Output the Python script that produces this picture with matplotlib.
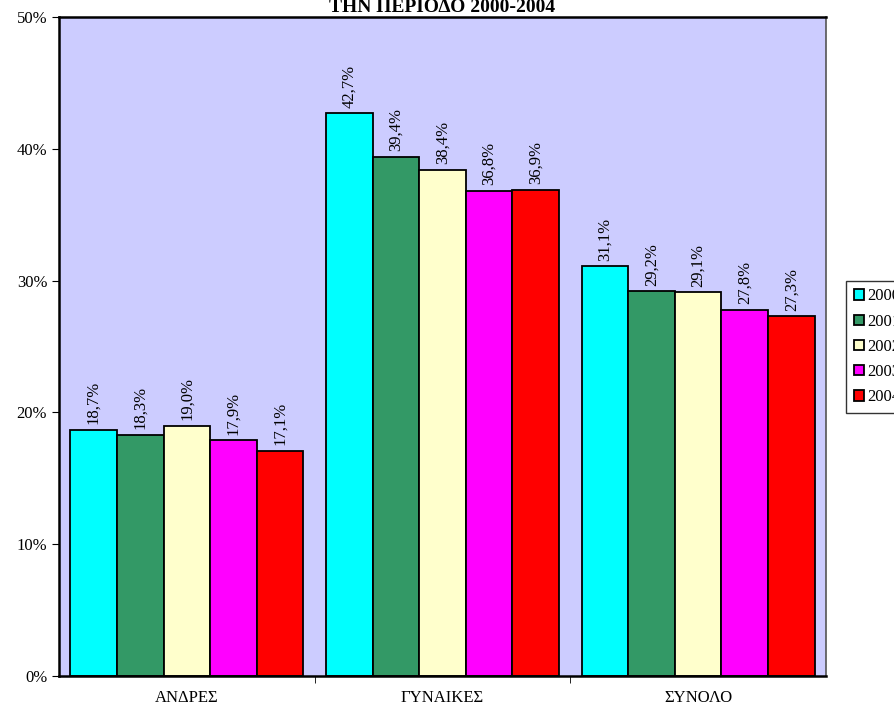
import matplotlib.pyplot as plt
import numpy as np

plt.rcParams['font.family'] = ['Liberation Serif', 'DejaVu Serif']

# Data
categories = ["ΑΝΔΡΕΣ", "ΓΥΝΑΙΚΕΣ", "ΣΥΝΟΛΟ"]
years = ["2000", "2001", "2002", "2003", "2004"]
values = {
    "2000": [18.7, 42.7, 31.1],
    "2001": [18.3, 39.4, 29.2],
    "2002": [19.0, 38.4, 29.1],
    "2003": [17.9, 36.8, 27.8],
    "2004": [17.1, 36.9, 27.3],
}
colors = ['#00FFFF', '#339966', '#FFFFCC', '#FF00FF', '#FF0000']

fig = plt.figure(figsize=(8.94, 7.05), dpi=100)
ax = fig.add_axes([59 / 894, 1 - 676 / 705, (826 - 59) / 894, (676 - 17) / 705])
ax.set_facecolor('#CCCCFF')

x = np.arange(len(categories))
width = 0.1824
for i, yr in enumerate(years):
    pos = x + (i - 2) * width
    ax.bar(pos, values[yr], width, color=colors[i], edgecolor='black',
           linewidth=1.3, label=yr)
    for xb, v in zip(pos, values[yr]):
        ax.annotate(f"{v:.1f}%".replace('.', ','), (xb, v), xytext=(0, 4),
                    textcoords='offset points', rotation=90,
                    ha='center', va='bottom', fontsize=12)

ax.set_xlim(-0.5, 2.5)
ax.set_ylim(0, 50)
ax.set_yticks(np.arange(0, 51, 10))
ax.set_yticklabels([f"{t}%" for t in range(0, 51, 10)], fontsize=12)
ax.set_xticks(x)
ax.set_xticklabels(categories, fontsize=12)
ax.tick_params(axis='x', length=0, pad=10)
ax.set_xticks([0.5, 1.5], minor=True)
ax.tick_params(axis='x', which='minor', length=5, direction='out')
ax.tick_params(axis='y', length=5, direction='out')
for name in ['left', 'bottom', 'top']:
    ax.spines[name].set_linewidth(1.8)
ax.spines['right'].set_linewidth(1.2)
ax.spines['right'].set_color('#555555')

fig.text(442 / 894, 1 + 2 / 705, "ΠΟΣΟΣΤΟ ΑΝΕΡΓΙΑΣ\nΤΗΝ ΠΕΡΙΟΔΟ 2000-2004",
         ha='center', va='center', fontsize=14, fontweight='bold', linespacing=1.1)

leg = ax.legend(loc='upper left', bbox_to_anchor=(846 / 894, 1 - 281 / 705),
                bbox_transform=fig.transFigure, frameon=True, fancybox=False,
                edgecolor='black', fontsize=12, handlelength=0.6, handleheight=0.6,
                handletextpad=0.25, labelspacing=0.55, borderpad=0.45,
                borderaxespad=0)
leg.get_frame().set_linewidth(1)

fig.savefig('out.png', dpi=100)
